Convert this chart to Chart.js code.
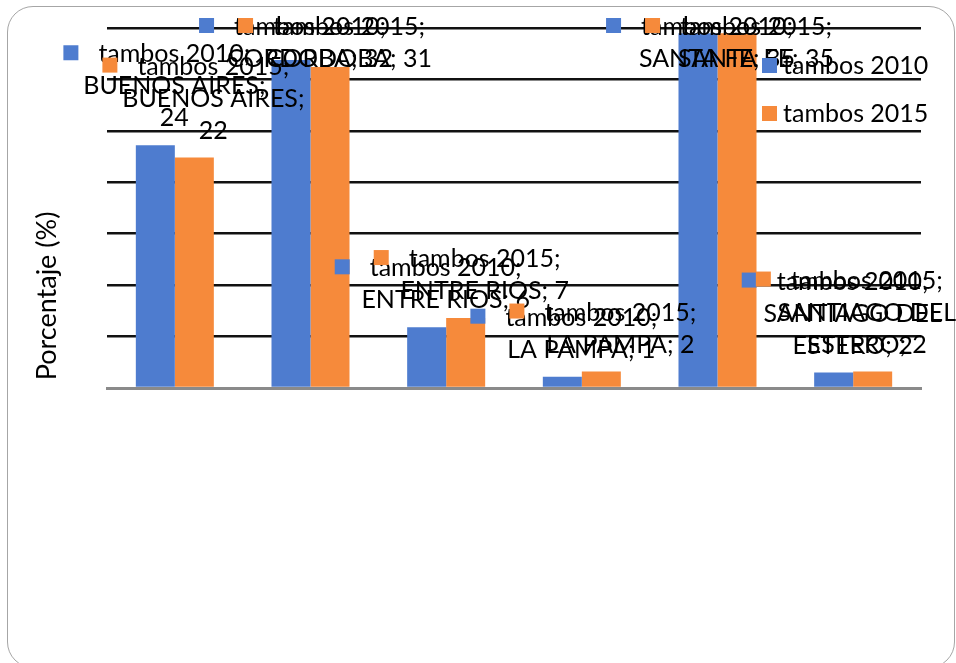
<!DOCTYPE html>
<html>
<head>
<meta charset="utf-8">
<script src="https://cdn.jsdelivr.net/npm/chart.js@4"></script>
<style>
  body { margin: 0; background: #fff; }
  #wrap { position: relative; width: 956px; height: 663px; overflow: hidden; }
  #frame { position: absolute; left: 7px; top: 6px; width: 946px; height: 660px;
           border: 1.5px solid #a6a6a6; border-radius: 26px; }
  canvas { position: absolute; left: 0; top: 0; }
</style>
</head>
<body>
<div id="wrap">
  <div id="frame"></div>
  <canvas id="tambos" width="956" height="663"></canvas>
</div>
<script>
var regions = ['BUENOS AIRES', 'CORDOBA', 'ENTRE RIOS', 'LA PAMPA', 'SANTA FE', 'SANTIAGO DEL ESTERO'];
var tambos2010 = [23.6, 31.9, 5.9, 1.1, 34.5, 1.5];
var tambos2015 = [22.4, 31.2, 6.8, 1.6, 34.5, 1.6];
var seriesNames = ['tambos 2010', 'tambos 2015'];
var yTitle = 'Porcentaje (%)';

var blue = '#4e7ccf';
var orange = '#f68a3b';
var FONT_SIZE = 25;
var FONT = FONT_SIZE + 'px Lato';
var LINE_H = 32;
var WRAP = 195;

var wrapText = function(ctx, text, maxW){
    var words = text.split(' ');
    var lines = [];
    var cur = '';
    words.forEach(function(w){
        var test = cur ? cur + ' ' + w : w;
        if (cur && ctx.measureText(test).width > maxW) {
            lines.push(cur);
            cur = w;
        } else {
            cur = test;
        }
    });
    if (cur) lines.push(cur);
    return lines;
};

// excel style labels: key square + "serie; category; value", above each bar
var labelPlugin = {
    id: 'excelLabels',
    afterDatasetsDraw: function(chart){
        var ctx = chart.ctx;
        var area = chart.chartArea;
        ctx.save();
        ctx.fillStyle = '#000';
        ctx.textAlign = 'center';
        ctx.textBaseline = 'middle';

        // axis title
        ctx.save();
        ctx.font = '27px Lato';
        ctx.translate(47, area.bottom - 92);
        ctx.rotate(-Math.PI / 2);
        ctx.fillText(yTitle, 0, 0);
        ctx.restore();

        ctx.font = FONT;
        chart.data.datasets.forEach(function(ds, di){
            var meta = chart.getDatasetMeta(di);
            meta.data.forEach(function(bar, i){
                var rest = regions[i] + '; ' + Math.round(ds.data[i]);
                var lines = [ds.label + ';'].concat(wrapText(ctx, rest, WRAP));
                var widths = lines.map(function(l){ return ctx.measureText(l).width; });
                var maxW = Math.max.apply(null, widths);
                var cx = Math.min(bar.x + 19, chart.width - maxW / 2);
                var firstY = bar.y - 27 - (lines.length - 1) * LINE_H;
                if (firstY < 27) firstY = 27;
                ctx.fillStyle = ds.backgroundColor;
                ctx.fillRect(cx - widths[0] / 2 - 35, firstY - 9, 15, 15);
                ctx.fillStyle = '#000';
                lines.forEach(function(l, k){
                    ctx.fillText(l, cx, firstY + k * LINE_H);
                });
            });
        });
        // legend on top
        ctx.textAlign = 'left';
        chart.data.datasets.forEach(function(ds, di){
            var y = 66 + di * 48;
            ctx.fillStyle = ds.backgroundColor;
            ctx.fillRect(762, y - 8, 15, 15);
            ctx.fillStyle = '#000';
            ctx.fillText(ds.label, 783, y);
        });
        ctx.restore();
    }
};

var ctx = document.getElementById('tambos').getContext('2d');
var chart = new Chart(ctx, {
    type: 'bar',
    data: {
        labels: regions,
        datasets: [{
            label: seriesNames[0],
            data: tambos2010,
            backgroundColor: blue,
            categoryPercentage: 0.575,
            barPercentage: 1
        }, {
            label: seriesNames[1],
            data: tambos2015,
            backgroundColor: orange,
            categoryPercentage: 0.575,
            barPercentage: 1
        }]
    },
    options: {
        responsive: false,
        animation: false,
        layout: { padding: { left: 30, top: 28, right: 35, bottom: 275 } },
        plugins: {
            legend: { display: false },
            tooltip: { enabled: false }
        },
        scales: {
            x: {
                ticks: { display: false },
                grid: { display: false },
                border: { color: '#8a8a8a', width: 3 },
                afterFit: function(s){ s.height = 0; }
            },
            y: {
                min: 0,
                max: 35,
                ticks: { display: false, stepSize: 5 },
                grid: { color: '#111', lineWidth: 2.5, drawTicks: false },
                border: { display: false },
                afterFit: function(s){ s.width = 77; }
            }
        }
    },
    plugins: [labelPlugin]
});
</script>
</body>
</html>
